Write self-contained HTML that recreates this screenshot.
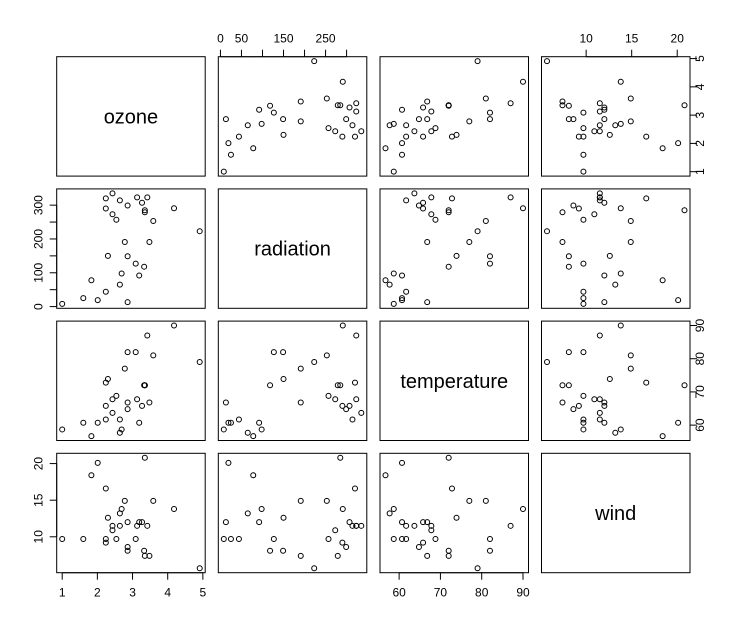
<!DOCTYPE html>
<html><head><meta charset="utf-8"><style>
body{margin:0;background:#fff}
svg{display:block;font-family:"Liberation Sans",sans-serif}
</style></head><body>
<svg id="chart" width="747" height="630" viewBox="0 0 747 630" xmlns="http://www.w3.org/2000/svg"></svg>
<script>
const varNames = ["ozone","radiation","temperature","wind"];
const ozone = [1.00,1.60,1.83,2.01,2.24,2.24,2.24,2.30,2.43,2.43,2.54,2.64,2.64,2.69,2.78,2.86,2.86,2.86,3.09,3.13,3.19,3.27,3.33,3.35,3.35,3.42,3.48,3.59,4.18,4.91];
const radiation = [8,25,78,19,320,290,44,150,335,273,257,314,65,98,191,299,149,13,127,323,92,307,118,285,279,323,191,253,291,223];
const temperature = [58.7,60.7,56.7,60.7,72.8,65.8,61.7,73.9,63.7,67.8,68.8,61.7,57.7,58.7,77,64.8,82,66.8,82,67.8,60.7,65.8,72,72,72,87,66.8,81,90,79];
const wind = [9.7,9.7,18.4,20.1,16.6,9.2,9.7,12.6,11.5,10.9,9.7,11.5,13.2,13.8,14.9,8.6,8.1,12,9.7,11.5,12,12,8.1,20.8,7.4,11.5,7.4,14.9,13.8,5.7];
const ozoneTicks = [1,2,3,4,5];
const ozoneLabels = ["1","2","3","4","5"];
const radiationTicks = [0,50,100,150,200,250,300];
const radiationLabelsH = ["0","50","","150","","250",""];
const radiationLabelsV = ["0","","100","","200","","300"];
const temperatureTicks = [60,70,80,90];
const temperatureLabels = ["60","70","80","90"];
const windTicks = [10,15,20];
const windLabels = ["10","15","20"];

const cols = [ozone, radiation, temperature, wind];
const NS = "http://www.w3.org/2000/svg";
const svg = document.getElementById("chart");
const X0 = [56.7,218.3,380,541.5], W = 148.5;
const Y0 = [56.7,188.9,321.1,453.3], H = 119.4;
function mk(tag, attrs){const e=document.createElementNS(NS,tag);for(const k in attrs)e.setAttribute(k,attrs[k]);svg.appendChild(e);return e;}
function range(a){const mn=Math.min(...a),mx=Math.max(...a),d=(mx-mn)*0.04;return [mn-d,mx+d];}
const ranges = cols.map(range);
function xs(v,c,val){const r=ranges[v];return X0[c]+(val-r[0])/(r[1]-r[0])*W;}
function ys(v,rw,val){const r=ranges[v];return Y0[rw]+H-(val-r[0])/(r[1]-r[0])*H;}

for(let r=0;r<4;r++){for(let c=0;c<4;c++){
  const box=mk("rect",{x:X0[c],y:Y0[r],width:W,height:H,fill:"none",stroke:"#000","stroke-width":1});
  
  
  if(r===c){
    const t=mk("text",{x:X0[c]+W/2,y:Y0[r]+H/2+7,"text-anchor":"middle","font-size":20});
    t.textContent=varNames[r];
    
    
    continue;
  }
  for(let i=0;i<cols[0].length;i++){
    const p=mk("circle",{cx:xs(c,c,cols[c][i]),cy:ys(r,r,cols[r][i]),r:2.5,fill:"none",stroke:"#000","stroke-width":1});
    
    
  }
}}

const tickSets=[[ozoneTicks,ozoneLabels,ozoneLabels],[radiationTicks,radiationLabelsH,radiationLabelsV],[temperatureTicks,temperatureLabels,temperatureLabels],[windTicks,windLabels,windLabels]];
for(let c=0;c<4;c++){
  const [ticks,labs]=tickSets[c];
  const bottom=(c%2===0);
  const yb=bottom?Y0[3]+H:Y0[0];
  const dir=bottom?1:-1;
  const x1=xs(c,c,ticks[0]),x2=xs(c,c,ticks[ticks.length-1]);
  const ax=mk("line",{x1:x1,x2:x2,y1:yb,y2:yb,stroke:"#000"});
  
  
  ticks.forEach((t,i)=>{
    const x=xs(c,c,t);
    const tk=mk("line",{x1:x,x2:x,y1:yb,y2:yb+dir*7,stroke:"#000"});
    
    
    if(labs[i]){
      const tx=mk("text",{x:x,y:bottom?yb+24:yb-14,"text-anchor":"middle","font-size":12});
      tx.textContent=labs[i];
      
      
    }
  });
}
for(let r=0;r<4;r++){
  const [ticks,,labs]=tickSets[r];
  const left=(r%2===1);
  const xb=left?X0[0]:X0[3]+W;
  const dir=left?-1:1;
  const y1=ys(r,r,ticks[0]),y2=ys(r,r,ticks[ticks.length-1]);
  const ax=mk("line",{x1:xb,x2:xb,y1:y1,y2:y2,stroke:"#000"});
  
  
  ticks.forEach((t,i)=>{
    const y=ys(r,r,t);
    const tk=mk("line",{x1:xb,x2:xb+dir*7,y1:y,y2:y,stroke:"#000"});
    
    
    if(labs[i]){
      const lx=left?xb-14:xb+14;
      const tx=mk("text",{x:lx,y:y,"text-anchor":"middle","font-size":12,transform:"rotate(-90 "+lx+" "+y+")"});
      tx.textContent=labs[i];
      
      
    }
  });
}
</script>
</body></html>
